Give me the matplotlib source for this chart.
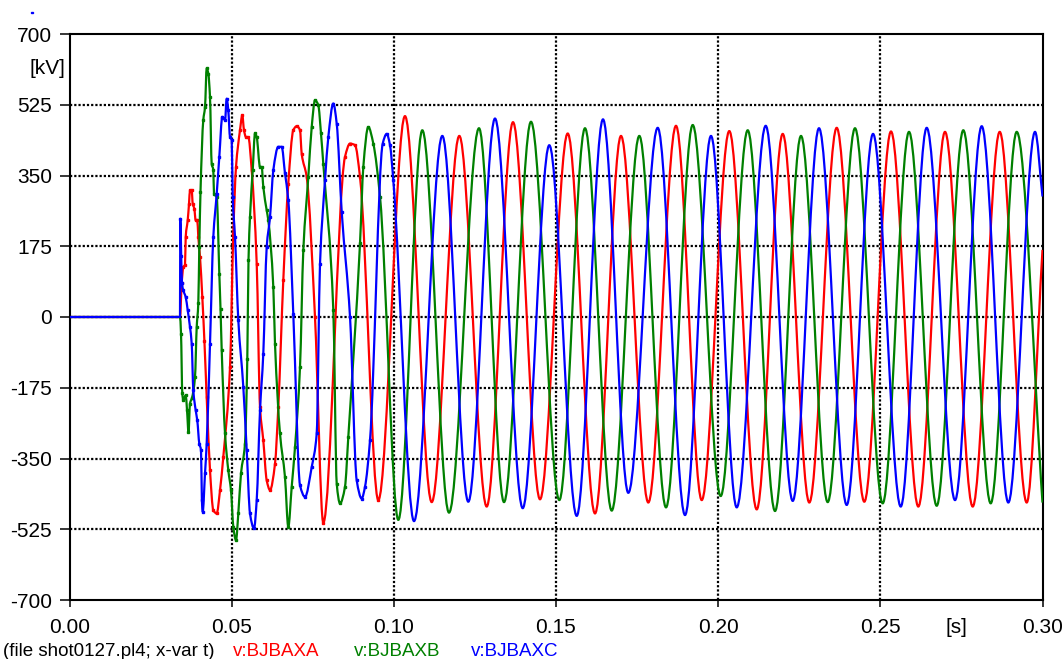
import numpy as np
import matplotlib
matplotlib.use("Agg")
import matplotlib.pyplot as plt
from matplotlib.path import Path
from matplotlib.patches import PathPatch, Rectangle

plt.rcParams['font.family'] = ['Liberation Sans', 'DejaVu Sans']

# ---------------- data (time in ms, voltage in kV) -------------
tA_ms = [0.0, 34.07, 34.59, 35.09, 35.61, 35.83, 36.44, 36.85, 37.15, 37.68, 37.99, 38.48,
         38.91, 39.40, 39.71, 40.24, 40.95, 41.60, 42.30, 43.32, 44.34, 45.39, 46.40, 47.42,
         49.49, 50.50, 51.34, 52.57, 53.28, 53.80, 54.42, 55.13, 56.18, 57.72, 58.74, 59.75,
         60.80, 61.82, 63.36, 64.38, 65.92, 67.46, 69.00, 70.05, 71.07, 71.59, 73.14, 75.69,
         78.25, 84.94, 86.49, 88.03, 89.57, 95.21, 103.44, 111.68, 120.19, 128.63, 136.74,
         145.07, 153.61, 162.03, 170.04, 178.46, 187.00, 194.93, 203.43, 211.89, 219.90,
         228.10, 236.55, 245.06, 253.29, 261.71, 269.94, 278.48, 286.81, 295.13, 300.0]
vA_kV = [0, 0, 83, 124, 128, 198, 239, 280, 313, 313, 280, 268,
         239, 239, 198, 148, 49, -60, -198, -379, -478, -486, -429, -346,
         -124, 206, 371, 462, 499, 462, 445, 445, 363, 132, -223, -305,
         -404, -428, -363, -223, 91, 330, 462, 472, 462, 404, 346, 0,
         -509, 396, 429, 425, 346, -453, 497, -458, 448, -469, 482,
         -451, 454, -486, 448, -459, 473, -453, 460, -476, 453,
         -459, 468, -457, 459, -469, 458, -469, 458, -459, 166]

tB_ms = [0.0, 34.07, 34.38, 34.78, 35.09, 35.83, 36.23, 36.69, 37.15, 37.77, 38.70, 39.22,
         39.71, 40.02, 40.39, 41.25, 41.78, 42.30, 42.80, 43.32, 43.84, 44.34, 44.55, 45.39,
         46.19, 46.56, 46.93, 47.95, 48.96, 49.80, 50.50, 51.34, 52.05, 52.88, 54.11, 54.82,
         55.19, 55.65, 56.49, 57.20, 57.72, 58.74, 59.26, 59.75, 60.80, 61.30, 62.84, 63.36,
         64.90, 66.44, 67.46, 68.51, 69.53, 71.07, 72.09, 73.63, 74.68, 75.69, 76.71, 77.54,
         78.25, 81.34, 82.39, 83.40, 84.94, 85.96, 89.57, 90.59, 92.13, 93.67, 95.74,
         101.38, 108.78, 117.01, 126.26, 133.97, 142.29, 151.02, 158.94, 167.18, 175.69,
         183.92, 192.15, 200.78, 209.11, 217.53, 225.54, 233.77, 242.19, 250.73, 258.84,
         267.38, 275.58, 284.03, 292.05, 300.0]
vB_kV = [0, 0, -41, -189, -206, -194, -230, -284, -214, -200, -148, -25,
         34, 173, 310, 487, 519, 615, 602, 544, 379, 363, 305, 297,
         107, 20, -82, -288, -379, -429, -519, -552, -486, -387, -313, -103,
         140, 247, 363, 454, 445, 371, 371, 322, 264, 239, 74, -66,
         -288, -396, -519, -420, -322, -124, 165, 346, 470, 536, 524, 454,
         379, 17, -412, -461, -420, -297, 182, 371, 470, 429, 297,
         -502, 462, -484, 467, -458, 483, -453, 467, -479, 448,
         -471, 475, -443, 462, -480, 448, -458, 467, -461, 458,
         -467, 462, -461, 458, -459]

tC_ms = [0.0, 34.07, 34.16, 34.44, 34.69, 35.09, 35.83, 36.44, 37.15, 37.68, 38.17, 38.91,
         39.40, 40.02, 40.55, 40.82, 41.07, 41.78, 42.30, 43.32, 44.34, 45.39, 46.19, 47.11,
         47.95, 48.47, 48.96, 49.49, 50.01, 50.32, 51.03, 52.05, 53.59, 54.64, 55.65, 56.89,
         57.72, 58.74, 59.75, 60.80, 61.82, 62.84, 64.38, 65.43, 66.44, 67.46, 69.00, 71.07,
         72.61, 74.68, 76.22, 77.24, 78.78, 79.80, 81.34, 82.39, 83.93, 86.49, 88.55, 90.09,
         91.11, 92.65, 96.57, 97.80, 98.82, 99.84, 106.22, 114.95, 122.96, 131.19, 139.74,
         147.93, 156.39, 164.49, 172.29, 181.36, 189.78, 197.79, 205.72, 214.66, 222.99,
         231.09, 239.63, 247.75, 256.29, 264.30, 273.03, 281.26, 289.46, 297.70, 300.0]
vC_kV = [0, 0, 243, 150, 83, 66, 49, 17, -25, -66, -181, -231,
         -256, -313, -330, -453, -482, -387, -313, -66, 198, 305, 396, 495,
         487, 540, 511, 445, 438, 297, 198, -8, -173, -330, -486, -523,
         -453, -231, -91, 173, 247, 363, 421, 421, 355, 289, 8, -416,
         -445, -371, -288, 132, 338, 445, 528, 478, 260, 0, -404, -449,
         -420, -305, 429, 453, 425, 338, -505, 448, -457, 491, -473,
         425, -492, 489, -435, 468, -490, 448, -471, 473, -455,
         467, -465, 453, -469, 468, -453, 472, -459, 458, 298]

series_names = ["v:BJBAXA", "v:BJBAXB", "v:BJBAXC"]
series_colors = ["#ff0000", "#008000", "#0000ff"]

x_ticks = [0.00, 0.05, 0.10, 0.15, 0.20, 0.25, 0.30]
x_tick_labels = ["0.00", "0.05", "0.10", "0.15", "0.20", "0.25", "0.30"]
x_unit_pos = 0.2735
x_unit_label = "[s]"
y_ticks = [-700, -525, -350, -175, 0, 175, 350, 525, 700]
y_tick_labels = ["-700", "-525", "-350", "-175", "0", "175", "350", "525", "700"]


def pchip_slopes(x, y):
    h = np.diff(x)
    d = np.diff(y) / h
    m = np.zeros_like(y)
    for k in range(1, len(x) - 1):
        if d[k - 1] * d[k] > 0:
            w1 = 2 * h[k] + h[k - 1]
            w2 = h[k] + 2 * h[k - 1]
            m[k] = (w1 + w2) / (w1 / d[k - 1] + w2 / d[k])
    m[0] = 0.0
    m[-1] = d[-1]
    return m


def smooth_path(t, v):
    t = np.asarray(t, float)
    v = np.asarray(v, float)
    m = pchip_slopes(t, v)
    verts = [(t[0], v[0])]
    codes = [Path.MOVETO]
    for k in range(len(t) - 1):
        h = t[k + 1] - t[k]
        verts += [(t[k] + h / 3, v[k] + m[k] * h / 3),
                  (t[k + 1] - h / 3, v[k + 1] - m[k + 1] * h / 3),
                  (t[k + 1], v[k + 1])]
        codes += [Path.CURVE4] * 3
    return Path(verts, codes)


W, H = 1063, 659
fig = plt.figure(figsize=(W / 100, H / 100), dpi=100)
ax = fig.add_axes([69.5 / W, 59 / H, 973 / W, 566 / H])

ax.set_xlim(0, 0.30)
ax.set_ylim(-700, 700)

dot = (0, (1, 0.9))
for xv in x_ticks[1:-1]:
    ax.axvline(xv, color='black', lw=1.6, linestyle=dot, zorder=1)
for yv in y_ticks[1:-1]:
    ax.axhline(yv, color='black', lw=1.6, linestyle=dot, zorder=1)

for t_ms, v, col in zip([tA_ms, tB_ms, tC_ms], [vA_kV, vB_kV, vC_kV], series_colors):
    t = np.asarray(t_ms) / 1000.0
    vv = np.asarray(v, float)
    ax.add_patch(PathPatch(smooth_path(t, vv), fill=False,
                           edgecolor=col, lw=1.6, joinstyle='round', zorder=3))
    mask = (t > 0.0341) & (t < 0.1)
    ax.plot(t[mask], vv[mask], 's', ms=2.0, color=col, zorder=3)

ax.set_xticks(x_ticks + [x_unit_pos])
ax.set_xticklabels(x_tick_labels + [x_unit_label])
ax.xaxis.get_major_ticks()[-1].tick1line.set_visible(False)
ax.set_yticks(y_ticks)
ax.set_yticklabels(y_tick_labels)
ax.tick_params(axis='x', length=5, width=1.1, pad=8, labelsize=15, direction='out')
ax.tick_params(axis='y', length=7, width=1.1, pad=5.5, labelsize=15, direction='out')
for s in ['top', 'bottom', 'left', 'right']:
    ax.spines[s].set_linewidth(1.5)
    ax.spines[s].set_color('black')

fig.text(65 / W, 1 - 69 / H, "[kV]", ha='right', va='center', fontsize=15)

fig.text(3 / W, 1 - 651 / H, "(file shot0127.pl4; x-var t)", ha='left', va='center',
         fontsize=13.5, color='black')
for name, col, xs in zip(series_names, series_colors, [233, 354, 471]):
    fig.text(xs / W, 1 - 651 / H, name, ha='left', va='center', fontsize=13.5, color=col)

fig.patches.append(Rectangle((31 / W, 1 - 13 / H), 2 / W, 1.5 / H,
                             transform=fig.transFigure, color='#0000ff'))

fig.savefig("out.png", dpi=100)
